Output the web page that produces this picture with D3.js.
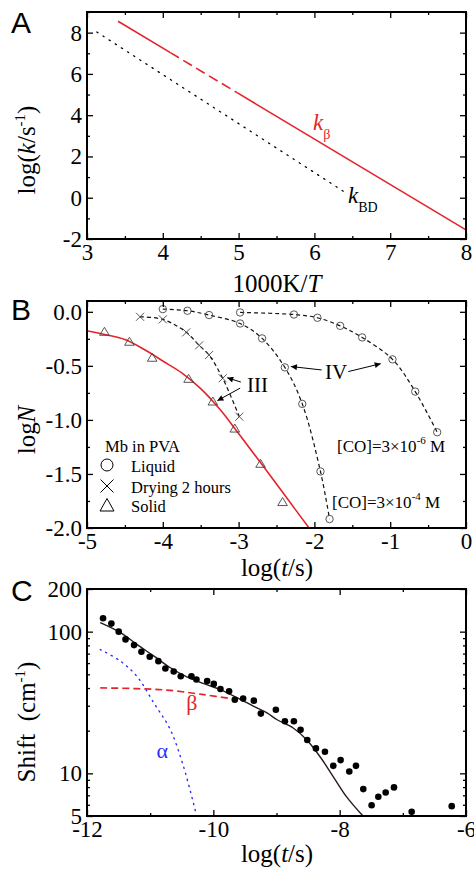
<!DOCTYPE html>
<html><head><meta charset="utf-8">
<script src="https://cdn.jsdelivr.net/npm/d3@7"></script>
<style>
body{margin:0;background:#fff}
svg text{font-family:"Liberation Serif","Times New Roman",serif;fill:#000}
svg text.plab{font-family:"Liberation Sans",Arial,sans-serif}
</style>
</head><body><svg id="c" width="474" height="871"></svg>
<script>
// ---------- Panel A data ----------
const aXMajor=[3,4,5,6,7,8], aXMinor=[3.5,4.5,5.5,6.5,7.5];
const aYMajor=[-2,0,2,4,6,8], aYMinor=[-1,1,3,5,7,9];
const kBetaX=[3.41,4.10,4.98,8.00];
const kBetaY=[8.55,7.03,5.09,-1.56];
const kBDX=[3.13,6.40];
const kBDY=[8.03,0.27];

// ---------- Panel B data ----------
const bXMajor=[-5,-4,-3,-2,-1,0], bXMinor=[-4.5,-3.5,-2.5,-1.5,-0.5];
const bYMajor=[0,-0.5,-1,-1.5,-2], bYMinor=[-0.25,-0.75,-1.25,-1.75];
const liq4X=[-4.00,-3.675,-3.39,-2.98,-2.69,-2.39,-2.16,-1.92,-1.80];
const liq4Y=[0.025,0.01,-0.03,-0.108,-0.246,-0.514,-0.852,-1.477,-1.917];
const liq6X=[-2.98,-2.27,-1.96,-1.66,-1.37,-0.97,-0.67,-0.38];
const liq6Y=[-0.006,-0.025,-0.055,-0.13,-0.237,-0.44,-0.738,-1.114];
const dryX=[-4.30,-4.00,-3.69,-3.52,-3.39,-3.21,-2.99];
const dryY=[-0.046,-0.07,-0.19,-0.31,-0.40,-0.615,-0.97];
const solX=[-4.77,-4.44,-4.14,-3.66,-3.34,-3.05,-2.71,-2.42];
const solY=[-0.185,-0.277,-0.425,-0.62,-0.83,-1.08,-1.406,-1.76];
const solFitX=[-5,-4.75,-4.5,-4.25,-4,-3.75,-3.5,-3.25,-3,-2.75,-2.5,-2.25,-2.07];
const solFitY=[-0.175,-0.212,-0.257,-0.347,-0.455,-0.565,-0.711,-0.90,-1.126,-1.358,-1.593,-1.83,-2.0];
// arrows: [x1,y1,x2,y2] in data units
const bArrows=[[-2.97,-0.65,-3.15,-0.61],[-2.98,-0.706,-3.28,-0.822],[-1.904,-0.538,-2.31,-0.506],[-1.553,-0.553,-1.125,-0.48]];
const legendLabels=["Liquid","Drying 2 hours","Solid"];

// ---------- Panel C data ----------
const cXMajor=[-12,-10,-8,-6], cXMinor=[-11,-9,-7];
const cYMajor=[5,10,100,200], cYMinor=[6,7,8,9,20,30,40,50,60,70,80,90];
const shiftX=[-11.746,-11.614,-11.498,-11.39,-11.255,-11.139,-11.007,-10.87,-10.759,-10.627,-10.516,-10.347,-10.267,-10.098,-9.993,-9.887,-9.75,-9.66,-9.528,-9.359,-9.248,-9.01,-8.867,-8.725,-8.619,-8.513,-8.376,-8.233,-8.101,-7.985,-7.848,-7.742,-7.626,-7.494,-7.388,-7.272,-7.14,-6.86,-6.226];
const shiftY=[124.3,114,100,88.2,80.4,72.2,66.5,61.9,55,52.3,48.5,48.5,45.9,44.9,42.8,39.4,37.9,33.1,33.7,32.6,26.4,28.1,23.3,23.3,20.3,17.2,15.0,14.2,11.3,12.4,10.3,11.3,7.74,5.96,6.83,7.33,7.96,5.35,5.87];
const fitX=[-11.79,-11.47,-11.21,-10.94,-10.68,-10.42,-10.15,-9.89,-9.62,-9.36,-9.15,-8.99,-8.73,-8.52,-8.31,-8.10,-7.89,-7.63];
const fitY=[115.8,98.4,81.3,67.2,55.6,48.0,43.0,39.0,34.1,29.7,26.7,23.9,20.8,17.2,13.1,9.46,6.83,5.0];
const betaX=[-11.79,-11.21,-10.68,-10.15,-9.68];
const betaY=[40.1,39.6,38.5,35.9,33.5];
const alphaX=[-11.79,-11.47,-11.21,-10.94,-10.68,-10.47,-10.28];
const alphaY=[74.8,61.9,48.4,31.3,20.3,11.1,5.35];

const RED="#e3242b", BLUE="#2b2bff";
const SERIF='"Liberation Serif","Times New Roman",serif';
const svg=d3.select("#c");

svg.append("defs").append("marker").attr("id","ah").attr("viewBox","0 0 10 10")
  .attr("refX",10).attr("refY",5).attr("markerWidth",8).attr("markerHeight",6)
  .attr("markerUnits","userSpaceOnUse").attr("orient","auto")
  .append("path").attr("d","M0,0L10,5L0,10z").attr("fill","#000");

function axes(x,y,o){
  const g=svg.append("g");
  const [x0,x1]=x.range(), [y0,y1]=y.range();
  const style=s=>{s.select(".domain").remove();
    s.selectAll("line").attr("stroke","#000").attr("stroke-width",1.3);
    s.attr("font-family",null).attr("font-size",null);
    s.selectAll("text").style("font-family",SERIF).style("font-size","23px").style("fill","#000");};
  const mk=(axisFn,scale,vals,len,fmt,tr)=>{
    const a=axisFn(scale).tickValues(vals).tickSize(-len).tickSizeOuter(0).tickPadding(5);
    a.tickFormat(fmt||"");
    g.append("g").attr("transform",tr).call(a).call(style);
  };
  mk(d3.axisBottom,x,o.xMajor,6,o.xFmt,`translate(0,${y0})`);
  mk(d3.axisBottom,x,o.xMinor,3,null,`translate(0,${y0})`);
  mk(d3.axisTop,x,o.xMajor,6,null,`translate(0,${y1})`);
  mk(d3.axisTop,x,o.xMinor,3,null,`translate(0,${y1})`);
  mk(d3.axisLeft,y,o.yMajor,6,o.yFmt,`translate(${x0},0)`);
  mk(d3.axisLeft,y,o.yMinor,3,null,`translate(${x0},0)`);
  mk(d3.axisRight,y,o.yMajor,6,null,`translate(${x1},0)`);
  mk(d3.axisRight,y,o.yMinor,3,null,`translate(${x1},0)`);
  g.append("rect").attr("x",x0).attr("y",y1).attr("width",x1-x0).attr("height",y0-y1)
    .attr("fill","none").attr("stroke","#000").attr("stroke-width",2);
  return g;
}
const zip=(a,b)=>a.map((v,i)=>[v,b[i]]);

// ================= Panel A =================
{
  const x=d3.scaleLinear().domain([3,8]).range([87,466]);
  const y=d3.scaleLinear().domain([-2,9]).range([239,12]);
  const clipG=svg.append("g");
  const line=d3.line().x(d=>x(d[0])).y(d=>y(d[1]));
  const kb=zip(kBetaX,kBetaY);
  clipG.append("path").attr("d",line(kb.slice(0,2))).attr("stroke",RED).attr("stroke-width",1.6).attr("fill","none");
  clipG.append("path").attr("d",line(kb.slice(1,3))).attr("stroke",RED).attr("stroke-width",1.6).attr("fill","none").attr("stroke-dasharray","10,5");
  clipG.append("path").attr("d",line(kb.slice(2,4))).attr("stroke",RED).attr("stroke-width",1.6).attr("fill","none");
  clipG.append("path").attr("d",line(zip(kBDX,kBDY))).attr("stroke","#000").attr("stroke-width",1.3).attr("fill","none").attr("stroke-dasharray","1.3,6").attr("stroke-linecap","round");
  axes(x,y,{xMajor:aXMajor,xMinor:aXMinor,yMajor:aYMajor,yMinor:aYMinor,xFmt:d=>String(d),yFmt:d=>String(d)});
  // labels
  const t1=svg.append("text").attr("x",313).attr("y",130).style("fill",RED);
  t1.append("tspan").attr("font-style","italic").attr("font-size",23).text("k");
  t1.append("tspan").attr("font-size",14).attr("dy",9).text("β");
  const t2=svg.append("text").attr("x",348).attr("y",203);
  t2.append("tspan").attr("font-style","italic").attr("font-size",23).text("k");
  t2.append("tspan").attr("font-size",14).attr("dy",9).text("BD");
  const xl=svg.append("text").attr("x",277).attr("y",292).attr("text-anchor","middle").attr("font-size",25);
  xl.append("tspan").text("1000K/");
  xl.append("tspan").attr("font-style","italic").text("T");
  const yl=svg.append("text").attr("transform","translate(35,150) rotate(-90)").attr("text-anchor","middle").attr("font-size",25);
  yl.append("tspan").text("log(");
  yl.append("tspan").attr("font-style","italic").text("k");
  yl.append("tspan").text("/s");
  yl.append("tspan").attr("font-size",15).attr("dy",-10).text("-1");
  yl.append("tspan").attr("dy",10).text(")");
  svg.append("text").attr("class","plab").attr("x",11).attr("y",33).attr("font-size",30).text("A");
}

// ================= Panel B =================
{
  const x=d3.scaleLinear().domain([-5,0]).range([87,466]);
  const y=d3.scaleLinear().domain([-2,0.1]).range([528,301]);
  const g=svg.append("g");
  const smooth=d3.line().x(d=>x(d[0])).y(d=>y(d[1])).curve(d3.curveCatmullRom.alpha(0.5));
  g.append("path").attr("d",smooth(zip(solFitX,solFitY))).attr("stroke",RED).attr("stroke-width",1.6).attr("fill","none");
  [[liq4X,liq4Y],[liq6X,liq6Y],[dryX,dryY]].forEach(([a,b])=>{
    g.append("path").attr("d",smooth(zip(a,b))).attr("stroke","#111").attr("stroke-width",1.2).attr("fill","none").attr("stroke-dasharray","4,3");
  });
  const ms="#444";
  zip(liq4X.concat(liq6X),liq4Y.concat(liq6Y)).forEach(d=>{
    g.append("circle").attr("cx",x(d[0])).attr("cy",y(d[1])).attr("r",3.7).attr("fill","none").attr("stroke",ms).attr("stroke-width",0.9);
  });
  zip(dryX,dryY).forEach(d=>{
    g.append("path").attr("transform",`translate(${x(d[0])},${y(d[1])})`).attr("d","M-4,-4L4,4M-4,4L4,-4").attr("stroke",ms).attr("stroke-width",0.9);
  });
  zip(solX,solY).forEach(d=>{
    g.append("path").attr("transform",`translate(${x(d[0])},${y(d[1])})`).attr("d","M0,-4.5L4.8,3.5L-4.8,3.5Z").attr("fill","none").attr("stroke",ms).attr("stroke-width",0.9);
  });
  bArrows.forEach(a=>{
    g.append("line").attr("x1",x(a[0])).attr("y1",y(a[1])).attr("x2",x(a[2])).attr("y2",y(a[3]))
      .attr("stroke","#000").attr("stroke-width",1).attr("marker-end","url(#ah)");
  });
  svg.append("text").attr("x",x(-2.89)).attr("y",y(-0.739)).attr("font-size",21).text("III");
  svg.append("text").attr("x",x(-1.86)).attr("y",y(-0.624)).attr("font-size",21).text("IV");
  const co=(xx,yy,e)=>{const t=svg.append("text").attr("x",xx).attr("y",yy).attr("font-size",17);
    t.append("tspan").text("[CO]=3×10");
    t.append("tspan").attr("font-size",11).attr("dy",-8).text(e);
    t.append("tspan").attr("dy",8).text("\u00a0M");};
  co(337,452,"-6"); co(332,508,"-4");
  // legend
  svg.append("text").attr("x",105).attr("y",452).attr("font-size",16.5).text("Mb in PVA");
  const ly=[465,486,505];
  svg.append("circle").attr("cx",107).attr("cy",ly[0]).attr("r",6).attr("fill","none").attr("stroke","#000").attr("stroke-width",1);
  svg.append("path").attr("transform",`translate(107,${ly[1]})`).attr("d","M-6.5,-6.5L6.5,6.5M-6.5,6.5L6.5,-6.5").attr("stroke","#000").attr("stroke-width",1);
  svg.append("path").attr("transform",`translate(107,${ly[2]})`).attr("d","M0,-6.5L7,6L-7,6Z").attr("fill","none").attr("stroke","#000").attr("stroke-width",1);
  legendLabels.forEach((l,i)=>svg.append("text").attr("x",131).attr("y",ly[i]+6.5).attr("font-size",16.5).text(l));
  axes(x,y,{xMajor:bXMajor,xMinor:bXMinor,yMajor:bYMajor,yMinor:bYMinor,xFmt:d=>String(d),yFmt:d=>d.toFixed(1)});
  const xl=svg.append("text").attr("x",277).attr("y",576).attr("text-anchor","middle").attr("font-size",25);
  xl.append("tspan").text("log(");
  xl.append("tspan").attr("font-style","italic").text("t");
  xl.append("tspan").text("/s)");
  const yl=svg.append("text").attr("transform","translate(35,430) rotate(-90)").attr("text-anchor","middle").attr("font-size",25);
  yl.append("tspan").text("log");
  yl.append("tspan").attr("font-style","italic").text("N");
  svg.append("text").attr("class","plab").attr("x",11).attr("y",320).attr("font-size",30).text("B");
}

// ================= Panel C =================
{
  const x=d3.scaleLinear().domain([-12,-6]).range([87,466]);
  const y=d3.scaleLog().domain([5,200]).range([816,589]);
  const g=svg.append("g");
  const smooth=d3.line().x(d=>x(d[0])).y(d=>y(d[1])).curve(d3.curveCatmullRom.alpha(0.5));
  g.append("path").attr("d",smooth(zip(alphaX,alphaY))).attr("stroke",BLUE).attr("stroke-width",1.4).attr("fill","none").attr("stroke-dasharray","1.2,5").attr("stroke-linecap","round");
  g.append("path").attr("d",smooth(zip(betaX,betaY))).attr("stroke",RED).attr("stroke-width",1.7).attr("fill","none").attr("stroke-dasharray","7,4");
  g.append("path").attr("d",smooth(zip(fitX,fitY))).attr("stroke","#2a1a1a").attr("stroke-width",1.4).attr("fill","none");
  zip(shiftX,shiftY).forEach(d=>{
    g.append("circle").attr("cx",x(d[0])).attr("cy",y(d[1])).attr("r",3.3).attr("fill","#000");
  });
  svg.append("text").attr("x",x(-10.43)).attr("y",y(28)).attr("font-size",22).style("fill",RED).text("β");
  svg.append("text").attr("x",x(-10.9)).attr("y",y(12.8)).attr("font-size",22).style("fill",BLUE).text("α");
  axes(x,y,{xMajor:cXMajor,xMinor:cXMinor,yMajor:cYMajor,yMinor:cYMinor,xFmt:d=>String(d),yFmt:d=>String(d)});
  const xl=svg.append("text").attr("x",277).attr("y",862).attr("text-anchor","middle").attr("font-size",25);
  xl.append("tspan").text("log(");
  xl.append("tspan").attr("font-style","italic").text("t");
  xl.append("tspan").text("/s)");
  const yl=svg.append("text").attr("transform","translate(35,722) rotate(-90)").attr("text-anchor","middle").attr("font-size",25);
  yl.append("tspan").text("Shift\u00a0\u00a0(cm");
  yl.append("tspan").attr("font-size",15).attr("dy",-10).text("-1");
  yl.append("tspan").attr("dy",10).text(")");
  svg.append("text").attr("class","plab").attr("x",11).attr("y",601).attr("font-size",30).text("C");
}
</script></body></html>
